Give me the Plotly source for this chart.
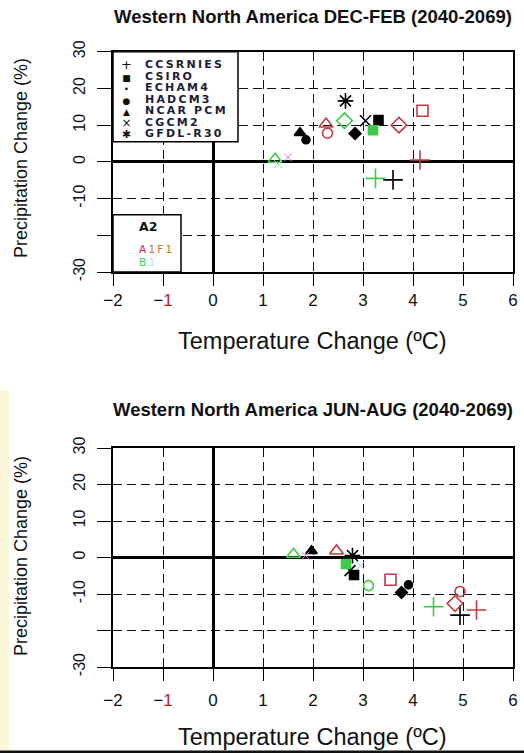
import plotly.graph_objects as go

W, H = 524, 753

models = ["CCSRNIES", "CSIRO", "ECHAM4", "HADCM3", "NCAR PCM", "CGCM2", "GFDL-R30"]
scenarios = ["A2", "A1F1", "B1"]

# Western North America, DEC-FEB (2040-2069): temperature change (C), precipitation change (%)
djf_a2_temp = [3.60, 3.31, 2.84, 1.86, 1.74, 3.05, 2.65]
djf_a2_prec = [-4.9, 11.4, 7.7, 6.0, 7.9, 11.2, 16.6]
djf_a1f1_temp = [4.14, 4.19, 3.72, 2.29, 2.26, 1.50, None]
djf_a1f1_prec = [0.5, 13.9, 10.0, 7.8, 10.3, 1.2, None]
djf_b1_temp = [3.25, 3.20, 2.63, None, 1.24, 1.30, None]
djf_b1_prec = [-4.5, 8.6, 11.2, None, 0.7, -0.6, None]

# Western North America, JUN-AUG (2040-2069)
jja_a2_temp = [4.94, 2.82, 3.77, 3.91, 1.97, 2.74, 2.79]
jja_a2_prec = [-15.8, -4.8, -9.6, -7.5, 1.8, -3.6, 0.5]
jja_a1f1_temp = [5.27, 3.55, 4.84, 4.94, 2.47, 1.85, None]
jja_a1f1_prec = [-14.4, -6.1, -12.6, -9.3, 1.8, 0.5, None]
jja_b1_temp = [4.41, 2.66, None, 3.11, 1.61, 2.95, None]
jja_b1_prec = [-13.5, -1.8, None, -7.7, 0.9, -2.2, None]

x_ticks = [-2, -1, 0, 1, 2, 3, 4, 5, 6]
x_ticktext = ["\u22122", "\u2212<span style='color:#c81818'>1</span>", "0", "1", "2", "3", "4", "5", "6"]
y_ticks = [-30, -20, -10, 0, 10, 20, 30]
y_ticktext = ["-30", "", "-10", "0", "10", "20", "30"]

titles = ["Western North America DEC-FEB (2040-2069)",
          "Western North America JUN-AUG (2040-2069)"]

# marker styling per model
sym_filled = {"CCSRNIES": "cross-thin", "CSIRO": "square", "ECHAM4": "diamond",
              "HADCM3": "circle", "NCAR PCM": "triangle-up", "CGCM2": "x-thin",
              "GFDL-R30": "asterisk"}
sym_open = {"CCSRNIES": "cross-thin", "CSIRO": "square-open", "ECHAM4": "diamond-open",
            "HADCM3": "circle-open", "NCAR PCM": "triangle-up-open", "CGCM2": "x-thin",
            "GFDL-R30": "asterisk"}
size_filled = {"CCSRNIES": 14, "CSIRO": 9, "ECHAM4": 9, "HADCM3": 8,
               "NCAR PCM": 10, "CGCM2": 11, "GFDL-R30": 13}
size_open = {"CCSRNIES": 14, "CSIRO": 11, "ECHAM4": 12, "HADCM3": 10,
             "NCAR PCM": 12, "CGCM2": 8, "GFDL-R30": 13}
scen_color = {"A2": "#000000", "A1F1": "#c23a44", "B1": "#3ccc48"}
faint_color = {"A2": "#000000", "A1F1": "#e07ac8", "B1": "#8fe0c0"}


def px(x):
    return x / W


def py(y):
    return 1 - y / H


fig = go.Figure()

panels = [
    ("x", "y", {"A2": (djf_a2_temp, djf_a2_prec), "A1F1": (djf_a1f1_temp, djf_a1f1_prec),
                "B1": (djf_b1_temp, djf_b1_prec)}),
    ("x2", "y2", {"A2": (jja_a2_temp, jja_a2_prec), "A1F1": (jja_a1f1_temp, jja_a1f1_prec),
                  "B1": (jja_b1_temp, jja_b1_prec)}),
]

for xa, ya, series in panels:
    for scen in scenarios:
        temps, precs = series[scen]
        for i, m in enumerate(models):
            if temps[i] is None:
                continue
            filled = scen == "A2" or (scen == "B1" and m == "CSIRO")
            sym = sym_filled[m] if filled else sym_open[m]
            size = size_filled[m] if filled else size_open[m]
            faint = m == "CGCM2" and scen != "A2"
            col = faint_color[scen] if faint else scen_color[scen]
            fig.add_trace(go.Scatter(
                x=[temps[i]], y=[precs[i]], xaxis=xa, yaxis=ya, mode="markers",
                name=f"{m} {scen}", showlegend=False,
                marker=dict(symbol=sym, size=size, color=col,
                            line=dict(color=col, width=1 if faint else 1.6)),
            ))

font_main = "Arial, Liberation Sans, sans-serif"
axis_common = dict(
    showline=True, mirror=True, linecolor="black", linewidth=1.5,
    ticks="outside", tickcolor="black", tickwidth=1.4,
    showgrid=True, gridcolor="#111111", gridwidth=1.4, griddash="9px,5px",
    zeroline=True, zerolinecolor="black", zerolinewidth=2.6,
    fixedrange=True, automargin=False,
)
xaxis_common = dict(axis_common, range=[-2, 6], tickvals=x_ticks, ticktext=x_ticktext,
                    ticklen=12, tickfont=dict(family=font_main, size=17, color="#111"))
yaxis_common = dict(axis_common, range=[-30, 30], tickvals=y_ticks, ticktext=y_ticktext,
                    ticklen=14, tickangle=-90,
                    tickfont=dict(family=font_main, size=16, color="#111"))

x_dom = [px(113), px(513)]
top_dom = [py(272), py(51.7)]
bot_dom = [py(667), py(448)]

fig.update_layout(
    width=W, height=H, margin=dict(l=0, r=0, t=0, b=0, autoexpand=False),
    paper_bgcolor="white", plot_bgcolor="white", showlegend=False,
    xaxis=dict(xaxis_common, domain=x_dom, anchor="y", ticklabelstandoff=0),
    yaxis=dict(yaxis_common, domain=top_dom, anchor="x", ticklabelstandoff=6),
    xaxis2=dict(xaxis_common, domain=x_dom, anchor="y2", ticklabelstandoff=5),
    yaxis2=dict(yaxis_common, domain=bot_dom, anchor="x2", ticklabelstandoff=6),
)

shapes = [
    # pale strip on the left edge and the rule along the bottom
    dict(type="rect", xref="paper", yref="paper", x0=0, x1=px(9), y0=py(750), y1=py(390),
         fillcolor="#fbf7d8", line=dict(width=0), layer="below"),
    dict(type="rect", xref="paper", yref="paper", x0=0, x1=1, y0=0, y1=py(750.5),
         fillcolor="#111111", line=dict(width=0), layer="above"),
    # model key box and scenario key box
    dict(type="rect", xref="x", yref="y", x0=-2, x1=0.5, y0=5.5, y1=30,
         fillcolor="white", line=dict(color="black", width=1.5), layer="above"),
    dict(type="rect", xref="x", yref="y", x0=-2, x1=-0.64, y0=-30, y1=-14.4,
         fillcolor="white", line=dict(color="black", width=1.5), layer="above"),
]

annotations = []
# panel titles
for t, yc in zip(titles, [17, 410]):
    annotations.append(dict(text=f"<b>{t}</b>", x=px(312.5), y=py(yc), xref="paper", yref="paper",
                            showarrow=False, xanchor="center", yanchor="middle",
                            font=dict(family=font_main, size=18.5, color="#111")))
# axis titles
for xc, yc in [(312.5, 341), (312.5, 737)]:
    annotations.append(dict(text="Temperature Change (\u00baC)", x=px(xc), y=py(yc),
                            xref="paper", yref="paper", showarrow=False,
                            xanchor="center", yanchor="middle",
                            font=dict(family=font_main, size=23.5, color="#111")))
for yc in [158, 556]:
    annotations.append(dict(text="Precipitation Change (%)", x=px(21), y=py(yc),
                            xref="paper", yref="paper", showarrow=False, textangle=-90,
                            xanchor="center", yanchor="middle",
                            font=dict(family=font_main, size=18, color="#111")))

# model key: one block of symbols and one block of names, 11.5 px per row
row_step = 11.5
base_size = row_step / 1.3
key_symbols = ["+", "\u25a0", "\u2022", "\u25cf", "\u25b2", "\u00d7", "\u2731"]
key_sym_size = [13, 9, 9, 9, 9, 12, 11]
sym_lines = "<br>".join(f"<span style='font-size:{sz}px'>{s}</span>"
                        for s, sz in zip(key_symbols, key_sym_size))
name_lines = "<br>".join(f"<span style='font-size:11px;letter-spacing:2.2px'><b>{m}</b></span>"
                         for m in models)
key_mid = 64 + row_step * (len(models) - 1) / 2
annotations.append(dict(text=sym_lines, x=px(126), y=py(key_mid), xref="paper", yref="paper",
                        showarrow=False, xanchor="center", yanchor="middle", align="center",
                        font=dict(family="DejaVu Sans", size=base_size, color="#111")))
annotations.append(dict(text=name_lines, x=px(143), y=py(key_mid), xref="paper", yref="paper",
                        showarrow=False, xanchor="left", yanchor="middle", align="left",
                        font=dict(family="DejaVu Sans", size=base_size, color="#1c1c3a")))

# scenario key
annotations.append(dict(text="<b>A2</b>", x=px(148), y=py(227), xref="paper", yref="paper",
                        showarrow=False, xanchor="center", yanchor="middle",
                        font=dict(family="DejaVu Sans", size=12.5, color="#111")))
scen_lines = ("<span style='font-size:10.5px;letter-spacing:2.2px'>"
              "<span style='color:#d4204c'>A</span><span style='color:#b8782c'>1F1</span></span>"
              "<br><span style='font-size:10.5px;letter-spacing:2.2px'>"
              "<span style='color:#2fd060'>B</span><span style='color:#b8e8c8'>1</span></span>")
annotations.append(dict(text=scen_lines, x=px(137), y=py(255.5), xref="paper", yref="paper",
                        showarrow=False, xanchor="left", yanchor="middle", align="left",
                        font=dict(family="DejaVu Sans", size=12.5 / 1.3)))

fig.update_layout(shapes=shapes, annotations=annotations)

fig.write_html("out.html")
